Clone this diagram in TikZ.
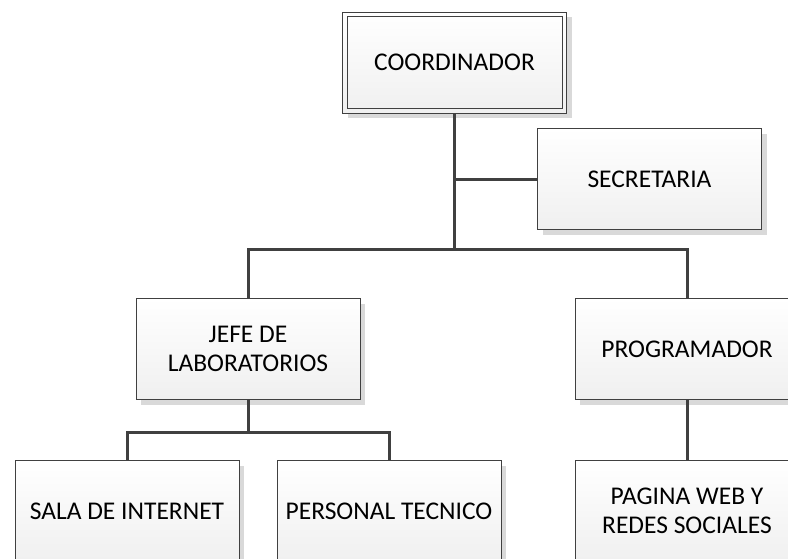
\documentclass[tikz,border=0pt]{standalone}
\usepackage{fontspec}
\setmainfont{Carlito}
\usetikzlibrary{shadows}
\definecolor{edge}{HTML}{404040}
\definecolor{shade}{HTML}{D9D9D9}
\tikzset{
  unit/.style={draw=edge, line width=0.8pt, top color=white, bottom color=gray!12,
    minimum width=224pt, minimum height=101pt, inner sep=0pt, align=center,
    font=\fontsize{25.5}{29}\selectfont,
    drop shadow={shadow xshift=5pt, shadow yshift=-5pt, fill=shade, opacity=1}},
  link/.style={draw=edge, line width=3pt}
}
\begin{document}
\begin{tikzpicture}[x=1pt, y=-1pt]
  \useasboundingbox (0,0) rectangle (788,558);
  \clip (0,0) rectangle (788,558);
  % units
  \node[unit] (coord) at (454.5,62.5) {COORDINADOR};
  \draw[draw=edge, line width=0.8pt] ([shift={(5pt,-5pt)}]coord.north west) rectangle ([shift={(-5pt,5pt)}]coord.south east);
  \node[unit] (sec)  at (649.5,179) {SECRETARIA};
  \node[unit] (jefe) at (248,349) {JEFE DE\\LABORATORIOS};
  \node[unit] (prog) at (687,349) {PROGRAMADOR};
  \node[unit] (sala) at (127,511) {SALA DE INTERNET};
  \node[unit] (pers) at (389,511) {PERSONAL TECNICO};
  \node[unit] (pag)  at (687,511) {PAGINA WEB Y\\REDES SOCIALES};
  % branch points
  \coordinate (bus) at (454.5,249);
  \coordinate (jbus) at (248,432);
  % connectors
  \draw[link] (coord.south) -- (bus);
  \draw[link] (sec.west) -- (sec.west -| coord.south);
  \draw[link] (jefe.north) |- (bus) -| (prog.north);
  \draw[link] (jefe.south) -- (jbus);
  \draw[link] (sala.north) |- (jbus) -| (pers.north);
  \draw[link] (prog.south) -- (pag.north);
\end{tikzpicture}
\end{document}
